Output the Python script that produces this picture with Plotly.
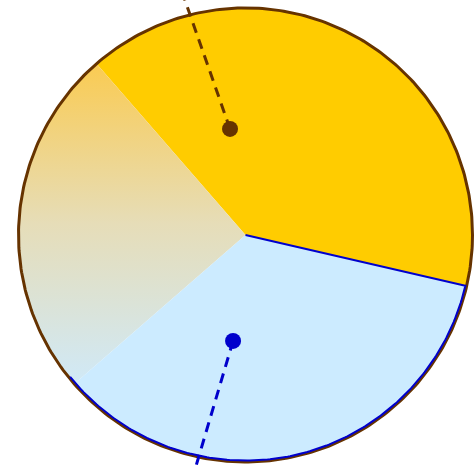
import numpy as np
import plotly.graph_objects as go

# slice shares (percent) going counter-clockwise from the start angle
slice_names = ["Yellow", "Gradient", "Blue"]
slice_values = [40, 25, 35]
start_angle = -13.0

# callout dots and their dashed leader directions (degrees, radius as fraction of pie)
callout_names = ["Yellow", "Blue"]
callout_angle = [98.3, 263.3]
callout_radius = [0.472, 0.470]
leader_angle = [109.3, 253.5]

BROWN = "#663300"
BLUE = "#0000CC"
YELLOW = "#FFCC00"
LIGHT_BLUE = "#CCEBFF"


def arc(a0, a1, r=1.0, n=200):
    t = np.radians(np.linspace(a0, a1, n))
    return r * np.cos(t), r * np.sin(t)


def sector(a0, a1):
    x, y = arc(a0, a1)
    return np.concatenate([[0], x, [0]]), np.concatenate([[0], y, [0]])


edges = start_angle + np.concatenate([[0], np.cumsum(slice_values)]) * 360 / sum(slice_values)

fig = go.Figure()

# yellow slice
x, y = sector(edges[0], edges[1])
fig.add_trace(go.Scatter(x=x, y=y, fill="toself", fillcolor=YELLOW, mode="lines",
                         line=dict(width=0), hoverinfo="skip"))

# gradient slice
x, y = sector(edges[1], edges[2])
fig.add_trace(go.Scatter(
    x=x, y=y, fill="toself", mode="lines", line=dict(width=0), hoverinfo="skip",
    fillgradient=dict(type="vertical",
                      colorscale=[[0, "#D0E9F7"], [0.5, "#E6DDB8"], [1, "#FACB52"]]),
))

# blue slice
x, y = sector(edges[2], edges[3])
fig.add_trace(go.Scatter(x=x, y=y, fill="toself", fillcolor=LIGHT_BLUE, mode="lines",
                         line=dict(width=0), hoverinfo="skip"))

# outer brown rim
x, y = arc(0, 360, n=400)
fig.add_trace(go.Scatter(x=x, y=y, mode="lines", line=dict(color=BROWN, width=3), hoverinfo="skip"))

# blue outline of the blue slice (arc + edge to yellow)
x, y = arc(edges[2] - 2, edges[3], r=0.994)
x = np.concatenate([x, [0]])
y = np.concatenate([y, [0]])
fig.add_trace(go.Scatter(x=x, y=y, mode="lines", line=dict(color=BLUE, width=2), hoverinfo="skip"))

# callouts
for ang, rad, lead, color in zip(callout_angle, callout_radius, leader_angle, [BROWN, BLUE]):
    px = rad * np.cos(np.radians(ang))
    py = rad * np.sin(np.radians(ang))
    lx = px + 1.2 * np.cos(np.radians(lead))
    ly = py + 1.2 * np.sin(np.radians(lead))
    fig.add_trace(go.Scatter(x=[px, lx], y=[py, ly], mode="lines",
                             line=dict(color=color, width=3, dash="10px,7px"), hoverinfo="skip"))
    fig.add_trace(go.Scatter(x=[px], y=[py], mode="markers",
                             marker=dict(color=color, size=16), hoverinfo="skip"))

fig.update_layout(
    width=474, height=469,
    margin=dict(l=0, r=0, t=0, b=0),
    showlegend=False,
    paper_bgcolor="white", plot_bgcolor="white",
)
fig.update_xaxes(range=[-1.0815, 1.0066], visible=False, fixedrange=True)
fig.update_yaxes(range=[-1.031, 1.035], visible=False, fixedrange=True)

fig.write_html("out.html", config={"displayModeBar": False},
               post_script="document.body.style.margin='0';document.body.style.overflow='hidden';")
